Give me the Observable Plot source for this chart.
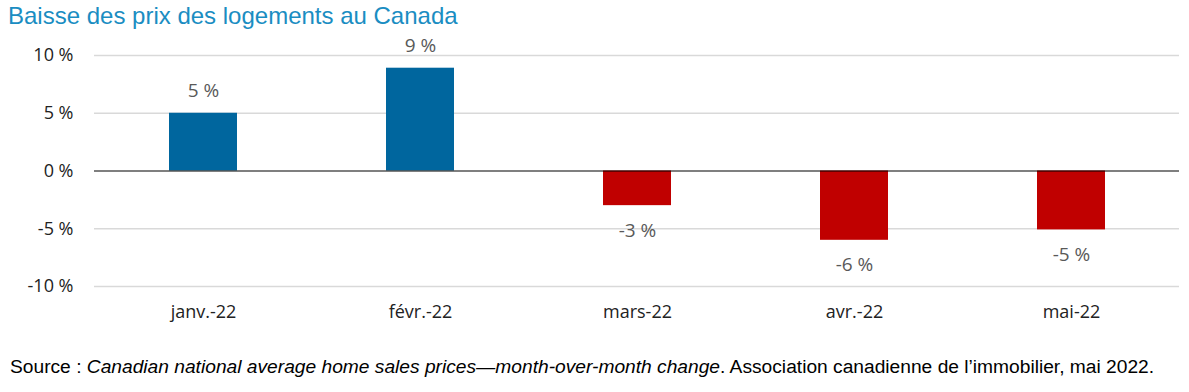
<!DOCTYPE html>
<html><head><meta charset="utf-8">
<script src="https://cdn.jsdelivr.net/npm/d3@7"></script>
<script src="https://cdn.jsdelivr.net/npm/@observablehq/plot@0.6"></script>
<style>
body{margin:0;background:#fff;width:1189px;height:392px;overflow:hidden}
#title{font-family:"Liberation Sans",Arial,sans-serif;font-size:24px;color:#1a8dc2;position:absolute;left:8px;top:2px;white-space:nowrap}
#cap{font-family:"Liberation Sans",Arial,sans-serif;font-size:19.2px;color:#000;position:absolute;left:10px;top:356px;white-space:nowrap}
#chart{position:absolute;left:0;top:30px}
</style></head><body>
<div id="title">Baisse des prix des logements au Canada</div>
<div id="chart"></div>
<div id="cap">Source : <i>Canadian national average home sales prices—month-over-month change</i>. Association canadienne de l’immobilier, mai 2022.</div>
<script>
const months = ["janv.-22","févr.-22","mars-22","avr.-22","mai-22"];
const changes = [5.0, 8.9, -3.0, -6.0, -5.1];
const yTicks = [-10,-5,0,5,10];
const data = months.map((m,i)=>({month:m, value:changes[i]}));
const fmt = v => `${Math.round(v)} %`;
const chart = Plot.plot({
  width:1189, height:300,
  marginTop:25, marginBottom:44, marginLeft:94, marginRight:10,
  style:{fontFamily:"'Open Sans',sans-serif", fontSize:"18px", color:"#222", background:"#fff"},
  x:{domain:months, paddingInner:0.687, paddingOuter:0.343, label:null, tickSize:0, tickPadding:19},
  y:{domain:[-10,10], ticks:yTicks, tickFormat:d=>`${d} %`, label:null, tickSize:0, tickPadding:21},
  marks:[
    Plot.ruleY(yTicks.filter(d=>d!==0),{stroke:"#d9d9d9",strokeWidth:1.5}),
    Plot.barY(data,{x:"month",y:"value",fill:d=>d.value>=0?"#00669e":"#c00000"}),
    Plot.ruleY([0],{stroke:"#000",strokeWidth:1.2}),
    Plot.text(data.filter(d=>d.value>=0),{x:"month",y:"value",text:d=>fmt(d.value),dy:-22,fill:"#595959",fontSize:19}),
    Plot.text(data.filter(d=>d.value<0),{x:"month",y:"value",text:d=>fmt(d.value),dy:25,fill:"#595959",fontSize:19})
  ]
});
document.getElementById("chart").appendChild(chart);
</script>
</body></html>
